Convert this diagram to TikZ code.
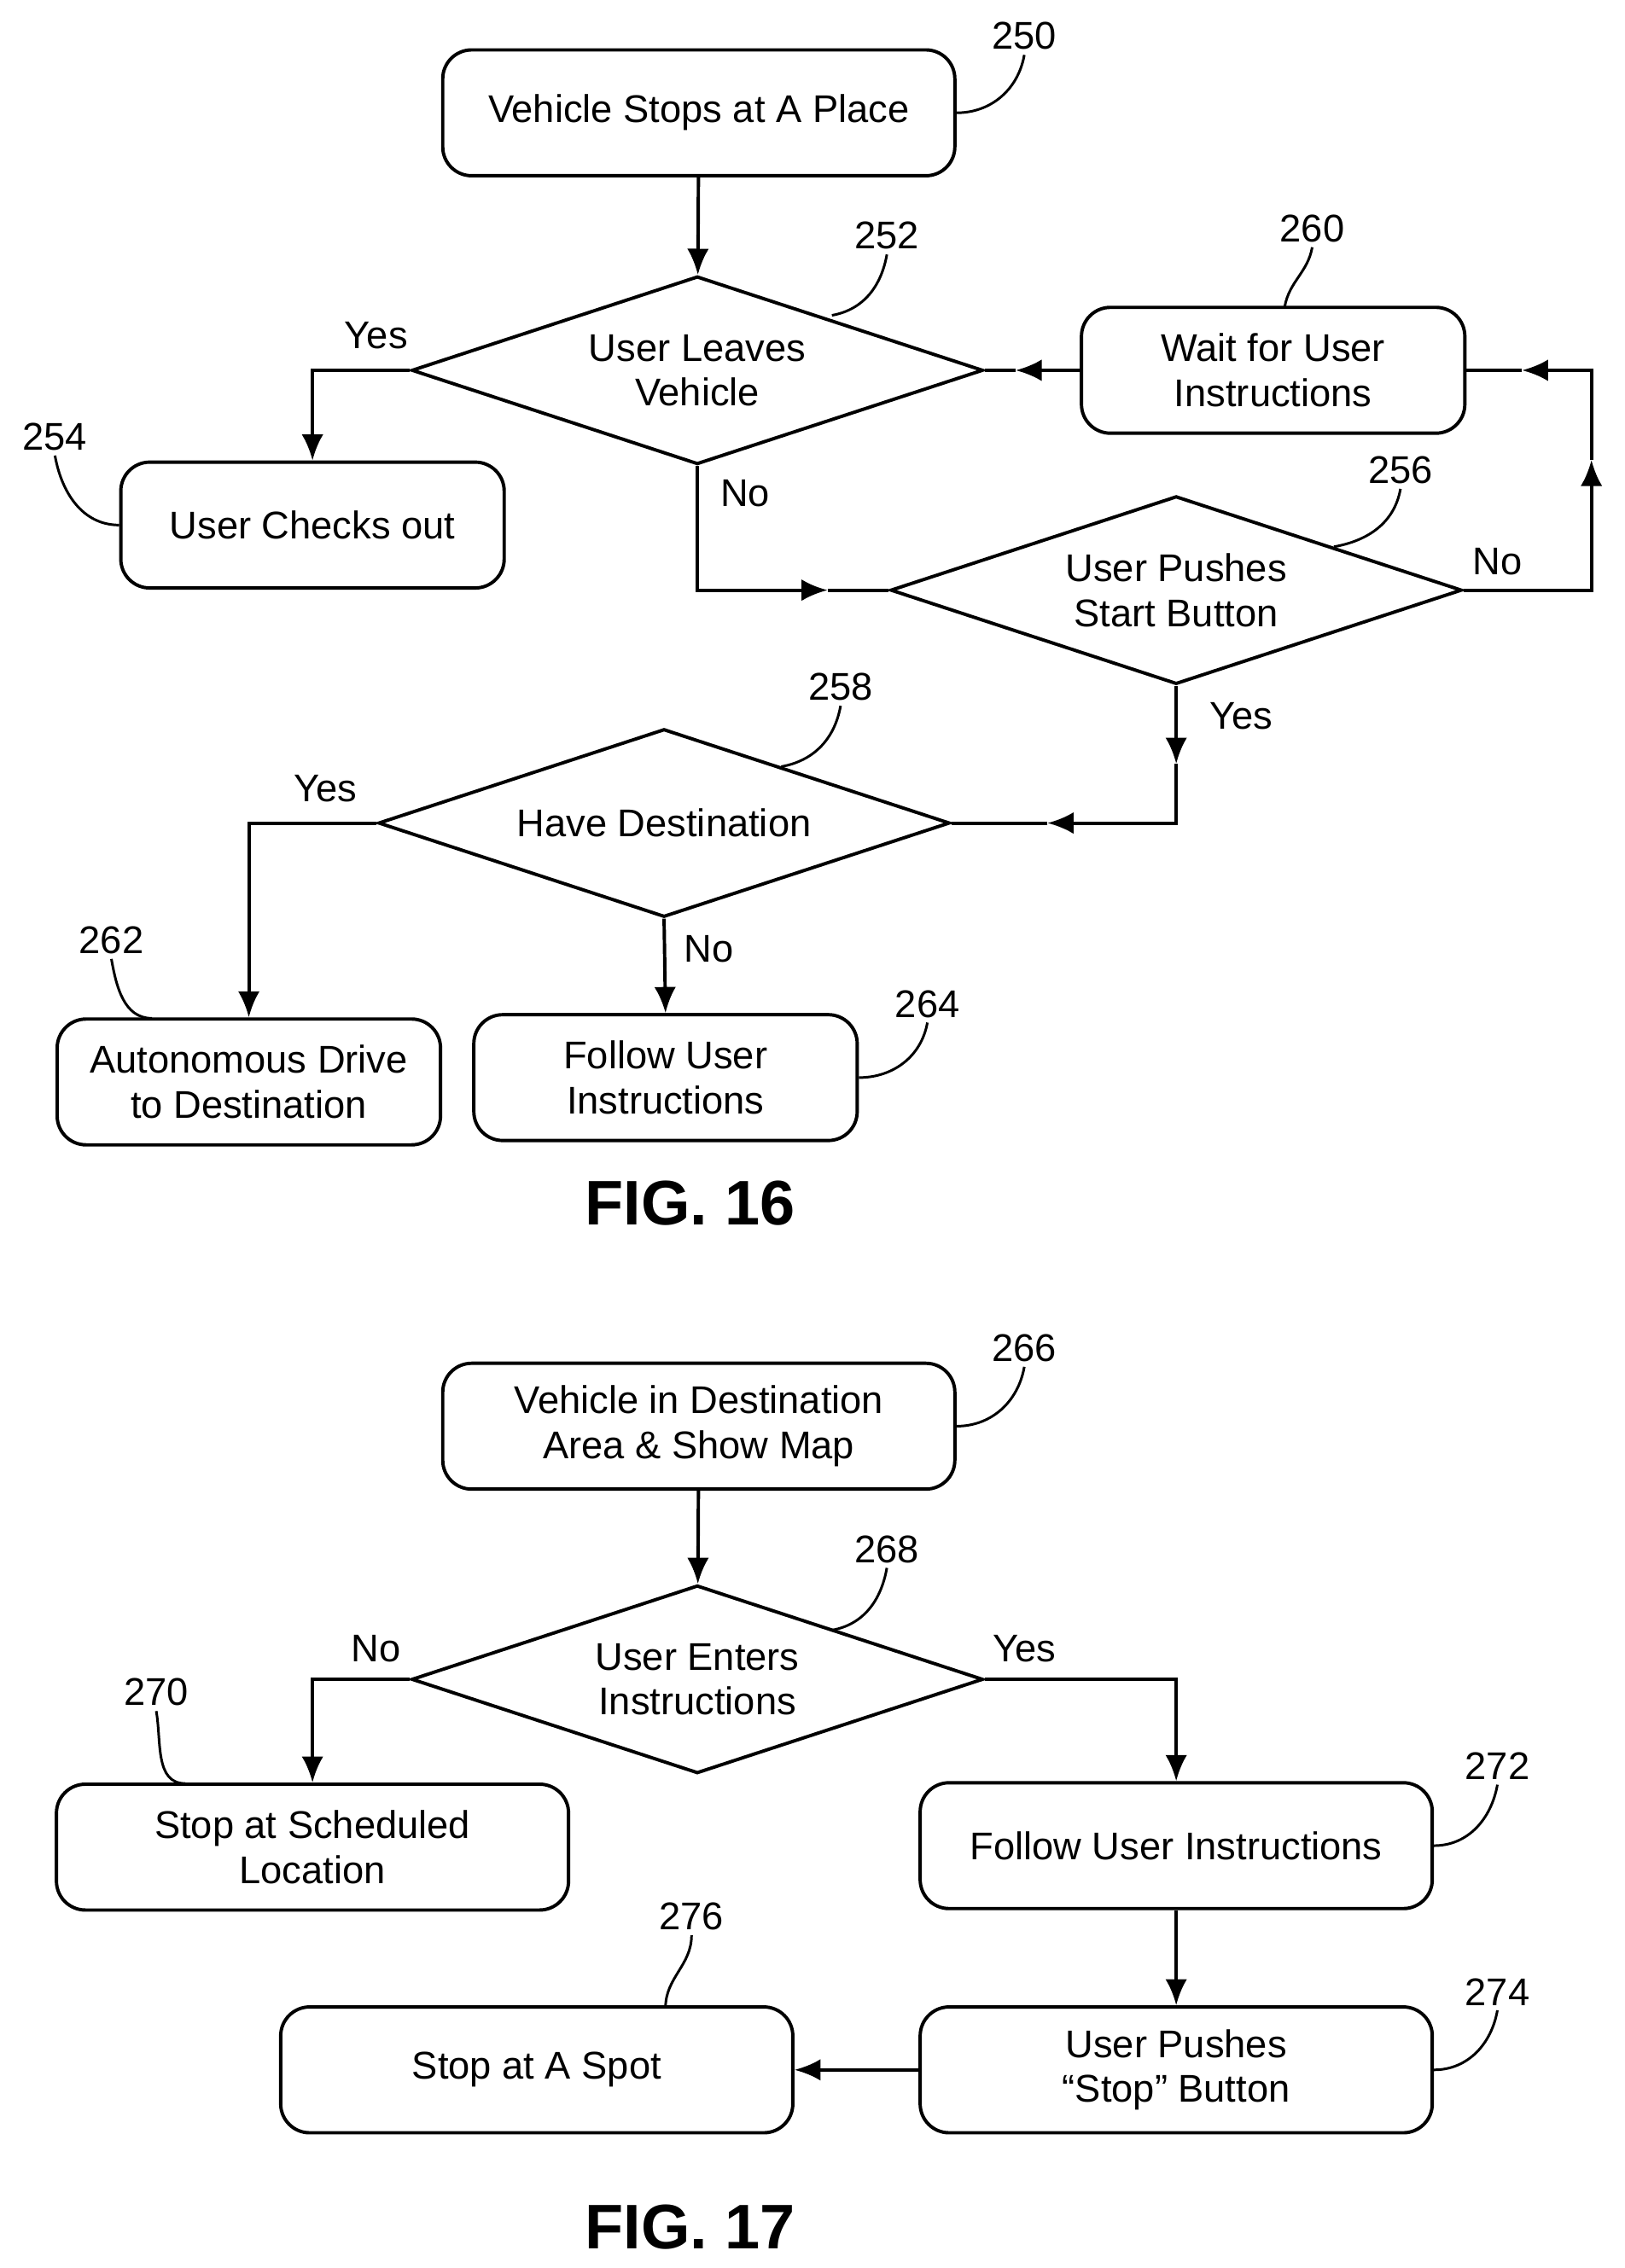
\documentclass[tikz,border=0pt]{standalone}
\usepackage{fontspec}
\setmainfont{Liberation Sans}
\usetikzlibrary{shapes.geometric,arrows.meta}
\begin{document}
\begin{tikzpicture}[x=0.05cm,y=-0.05cm,line width=3.3pt,
 >={Latex[length=0.9cm,width=0.75cm]},
 every node/.style={font=\fontsize{38}{44}\selectfont},
 box/.style={draw,rounded corners=1cm,minimum height=4.35cm,align=center,inner sep=0},
 bs/.style={box,minimum width=13.25cm},
 bl/.style={box,minimum width=17.7cm},
 dia/.style={draw,diamond,aspect=3,inner sep=0,minimum width=19.75cm,minimum height=6.5cm,align=center},
 lbl/.style={font=\fontsize{38}{44}\selectfont},
 fig/.style={font=\fontsize{62}{70}\selectfont\bfseries},
 lead/.style={line width=2.5pt}]
\useasboundingbox (0,0) rectangle (1123,1568);
% FIG 16
\node[bl] (b250) at (483,78) {Vehicle Stops at A Place};
\node[dia] (d252) at (482,256) {User Leaves\\Vehicle};
\node[bs] (b260) at (880,256) {Wait for User\\Instructions};
\node[bs] (b254) at (216,363) {User Checks out};
\node[dia] (d256) at (813,408) {User Pushes\\Start Button};
\node[dia] (d258) at (459,569) {Have Destination};
\node[bs] (b262) at (172,748) {Autonomous Drive\\to Destination};
\node[bs] (b264) at (460,745) {Follow User\\Instructions};
\node[fig] (f16) at (477,832) {FIG. 16};
\draw[->] (b250) -- (d252);
\draw[->] (d252.west) -| (b254.north);
\coordinate (m1) at (572,408);
\draw[->] (d252.south) |- (m1);
\draw (m1) -- (d256.west);
\coordinate (m2) at (1100,318);
\coordinate (m3) at (1052,256);
\draw[->] (d256.east) -| (m2);
\draw[->] (m2) |- (m3);
\draw (m3) -- (b260.east);
\coordinate (m4) at (702,256);
\draw[->] (b260.west) -- (m4);
\draw (m4) -- (d252.east);
\coordinate (m5) at (813,528);
\coordinate (m6) at (724,569);
\draw[->] (d256.south) -- (m5);
\draw[->] (m5) |- (m6);
\draw (m6) -- (d258.east);
\draw[->] (d258.west) -| (b262.north);
\draw[->] (d258.south) -- (b264.north);
\node[lbl] (y1) at (260,232) {Yes};
\node[lbl] (n1) at (515,341) {No};
\node[lbl] (n2) at (1035,388) {No};
\node[lbl] (y2) at (858,495) {Yes};
\node[lbl] (y3) at (225,545) {Yes};
\node[lbl] (n3) at (490,656) {No};
% numbers
\node (r250) at (708,25) {250};
\draw[lead] (b250.east) to[out=0,in=-100] (r250.south);
\node (r252) at (613,163) {252};
\draw[lead] (575,218) to[out=10,in=-100] (r252.south);
\node (r260) at (907,158) {260};
\draw[lead] (888,212) to[out=80,in=-100] (r260.south);
\node (r256) at (968,325) {256};
\draw[lead] (922,378) to[out=10,in=-100] (r256.south);
\node (r254) at (38,302) {254};
\draw[lead] (b254.west) to[out=180,in=-80] (r254.south);
\node (r258) at (581,475) {258};
\draw[lead] (540,530) to[out=10,in=-100] (r258.south);
\node (r262) at (77,650) {262};
\draw[lead] (105,704) to[out=180,in=-80] (r262.south);
\node (r264) at (641,694) {264};
\draw[lead] (b264.east) to[out=0,in=-100] (r264.south);
% FIG 17
\node[bl] (b266) at (483,986) {Vehicle in Destination\\Area \& Show Map};
\node[dia] (d268) at (482,1161) {User Enters\\Instructions};
\node[bl] (b270) at (216,1277) {Stop at Scheduled\\Location};
\node[bl] (b272) at (813,1276) {Follow User Instructions};
\node[bl] (b274) at (813,1431) {User Pushes\\“Stop” Button};
\node[bl] (b276) at (371,1431) {Stop at A Spot};
\node[fig] (f17) at (477,1540) {FIG. 17};
\draw[->] (b266) -- (d268);
\draw[->] (d268.west) -| (b270.north);
\draw[->] (d268.east) -| (b272.north);
\draw[->] (b272) -- (b274);
\draw[->] (b274) -- (b276);
\node[lbl] (n4) at (260,1140) {No};
\node[lbl] (y4) at (708,1140) {Yes};
\node (r266) at (708,932) {266};
\draw[lead] (b266.east) to[out=0,in=-100] (r266.south);
\node (r268) at (613,1071) {268};
\draw[lead] (575,1127) to[out=10,in=-100] (r268.south);
\node (r270) at (108,1170) {270};
\draw[lead] (128,1233) to[out=180,in=-80] (r270.south);
\node (r272) at (1035,1221) {272};
\draw[lead] (b272.east) to[out=0,in=-100] (r272.south);
\node (r274) at (1035,1377) {274};
\draw[lead] (b274.east) to[out=0,in=-100] (r274.south);
\node (r276) at (478,1325) {276};
\draw[lead] (460,1388) to[out=90,in=-90] (r276.south);
\end{tikzpicture}
\end{document}
